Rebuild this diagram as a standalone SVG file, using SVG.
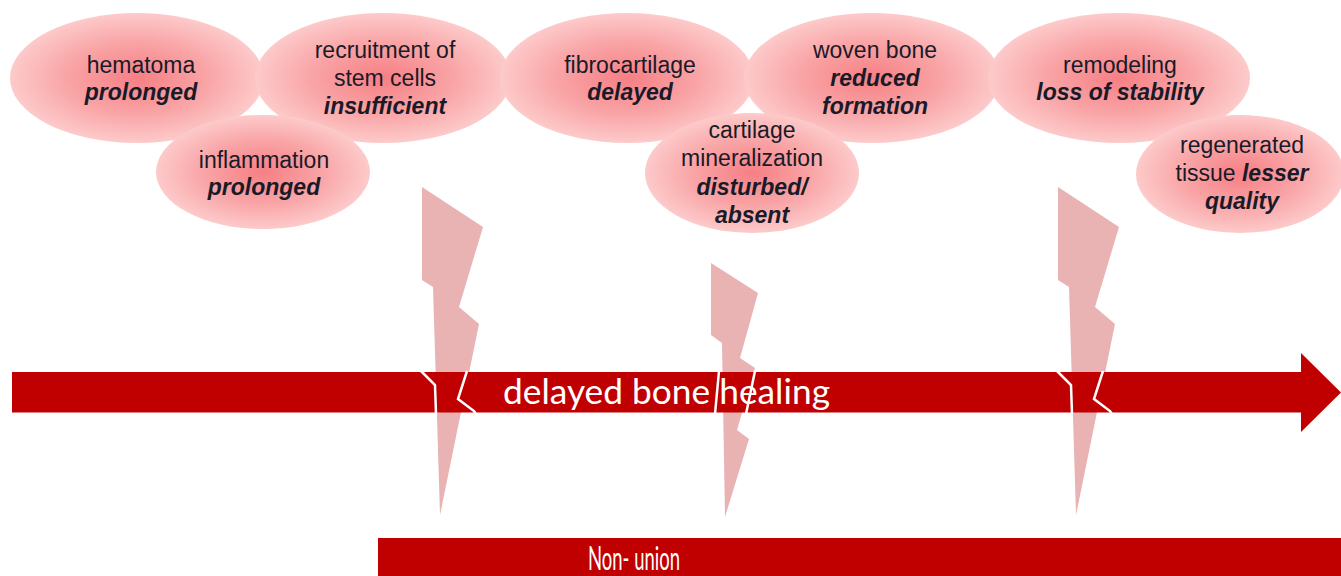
<svg xmlns="http://www.w3.org/2000/svg" xmlns:xlink="http://www.w3.org/1999/xlink" width="1341" height="576" viewBox="0 0 1341 576">
<defs>
  <radialGradient id="blob" cx="50%" cy="50%" r="50%">
    <stop offset="0%" stop-color="#f67f84"/>
    <stop offset="55%" stop-color="#f9a4a6"/>
    <stop offset="100%" stop-color="#fdcaca"/>
  </radialGradient>
  <polygon id="bolt" points="422,187 483,227 459,307 479,324 440,515 433,287 422,280"/>
</defs>
<style>
  .ell { fill: url(#blob); }
  .t { font-family: "Liberation Sans", Arial, sans-serif; font-size: 23px; fill: #1a1a28; text-anchor: middle; }
  .b { font-weight: bold; font-style: italic; }
  .bolt { fill: #e9b2b3; }
  .crack { fill: none; stroke: #ffffff; stroke-width: 2.5; stroke-linejoin: miter; }
  .bar { fill: #c00000; }
  .wt { fill: #ffffff; font-family: Lato, "Open Sans", sans-serif; }
</style>
<rect width="1341" height="576" fill="#ffffff"/>

<g id="bolts">
  <use xlink:href="#bolt" href="#bolt" class="bolt"/>
  <polygon class="bolt" points="711,263 758,293 740,358 755,368 737,430 749,439 725,517 722,343 711,335"/>
  <use xlink:href="#bolt" href="#bolt" class="bolt" transform="translate(636,0)"/>
</g>

<g id="connectors">
  <g id="delayed-arrow">
    <path class="bar" d="M12,372 H1301 V353 L1341,392.5 L1301,432 V412.5 H12 Z"/>
    <polyline class="crack" points="421,371 435,385 436,414"/>
    <polyline class="crack" points="467,371 458,399 474,411 476,414"/>
    <polyline class="crack" points="719,371 715,414"/>
    <polyline class="crack" points="755,371 746,414"/>
    <polyline class="crack" points="1057,371 1071,385 1072,414"/>
    <polyline class="crack" points="1103,371 1094,399 1110,411 1112,414"/>
    <text class="wt" x="503" y="404" font-size="34" textLength="327" lengthAdjust="spacingAndGlyphs">delayed bone healing</text>
  </g>
  <g id="non-union">
    <rect class="bar" x="378" y="538" width="963" height="38"/>
    <text class="wt" x="588" y="570" font-size="33" textLength="92" lengthAdjust="spacingAndGlyphs" font-family="'Liberation Sans', sans-serif">Non- union</text>
  </g>
</g>

<g id="node-hematoma">
  <ellipse class="ell" cx="137" cy="78" rx="127" ry="65"/>
  <text class="t" x="141" y="73">hematoma</text>
  <text class="t b" x="141" y="100">prolonged</text>
</g>
<g id="node-recruitment">
  <ellipse class="ell" cx="383" cy="78" rx="128" ry="65"/>
  <text class="t" x="385" y="58">recruitment of</text>
  <text class="t" x="385" y="86">stem cells</text>
  <text class="t b" x="385" y="114">insufficient</text>
</g>
<g id="node-fibrocartilage">
  <ellipse class="ell" cx="627" cy="78" rx="127" ry="65"/>
  <text class="t" x="630" y="73">fibrocartilage</text>
  <text class="t b" x="630" y="100">delayed</text>
</g>
<g id="node-woven-bone">
  <ellipse class="ell" cx="872" cy="78" rx="128" ry="65"/>
  <text class="t" x="875" y="58">woven bone</text>
  <text class="t b" x="875" y="86">reduced</text>
  <text class="t b" x="875" y="114">formation</text>
</g>
<g id="node-remodeling">
  <ellipse class="ell" cx="1119" cy="78" rx="131" ry="65"/>
  <text class="t" x="1120" y="73">remodeling</text>
  <text class="t b" x="1120" y="100">loss of stability</text>
</g>
<g id="node-inflammation">
  <ellipse class="ell" cx="263" cy="172" rx="107" ry="57"/>
  <text class="t" x="264" y="168">inflammation</text>
  <text class="t b" x="264" y="195">prolonged</text>
</g>
<g id="node-cartilage-mineralization">
  <ellipse class="ell" cx="752" cy="173" rx="107" ry="60"/>
  <text class="t" x="752" y="138">cartilage</text>
  <text class="t" x="752" y="166">mineralization</text>
  <text class="t b" x="752" y="195">disturbed/</text>
  <text class="t b" x="752" y="223">absent</text>
</g>
<g id="node-regenerated">
  <ellipse class="ell" cx="1240" cy="174" rx="104" ry="59"/>
  <text class="t" x="1242" y="153">regenerated</text>
  <text class="t" x="1242" y="181">tissue <tspan class="b">lesser</tspan></text>
  <text class="t b" x="1242" y="209">quality</text>
</g>
</svg>
